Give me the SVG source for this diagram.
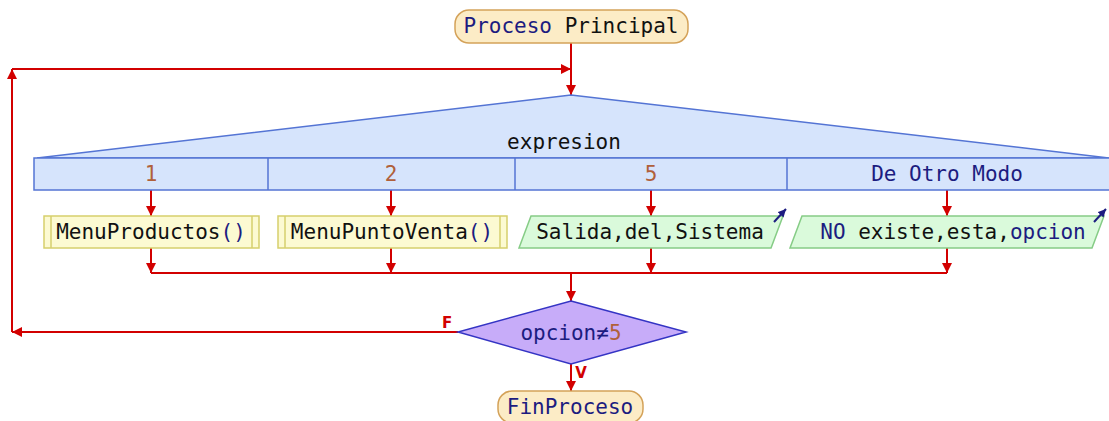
<svg xmlns="http://www.w3.org/2000/svg" width="1109" height="421" viewBox="0 0 1109 421">
<style>
text{font-family:"DejaVu Sans Mono","Liberation Mono",monospace;font-size:21px;text-anchor:middle}
.k{fill:#111111}.n{fill:#1c1c80}.b{fill:#b0603a}
.term{fill:#fcecc6;stroke:#d4a259;stroke-width:1.5}
.sel{fill:#d6e4fc;stroke:#5474d4;stroke-width:1.5}
.sub{fill:#fcfad2;stroke:#d6cf6c;stroke-width:1.5}
.io{fill:#dafadb;stroke:#86cc86;stroke-width:1.5}
.dec{fill:#c7acf9;stroke:#3434c4;stroke-width:1.5}
.ln{stroke:#d20000;stroke-width:2;fill:none}
.lbl{font-family:"DejaVu Sans","Liberation Sans",sans-serif;font-size:15px;font-weight:bold;fill:#d20000}
.oa{stroke:#1c1c80;stroke-width:2;fill:none}
</style>
<defs>
<marker id="ah" viewBox="0 0 10 10" refX="10" refY="5" markerWidth="5" markerHeight="5" orient="auto" markerUnits="strokeWidth">
<path d="M0,0 L10,5 L0,10 z" fill="#d20000"/>
</marker>
<marker id="oh" viewBox="0 0 10 10" refX="10" refY="5" markerWidth="4" markerHeight="4" orient="auto" markerUnits="strokeWidth">
<path d="M0,0 L10,5 L0,10 z" fill="#1c1c80"/>
</marker>
</defs>
<g id="connectors">
<line class="ln" x1="571" y1="43" x2="571" y2="95" marker-end="url(#ah)"/>
<line class="ln" x1="458" y1="332" x2="12" y2="332" marker-end="url(#ah)"/>
<line class="ln" x1="12" y1="332" x2="12" y2="69" marker-end="url(#ah)"/>
<line class="ln" x1="12" y1="69" x2="571" y2="69" marker-end="url(#ah)"/>
<line class="ln" x1="151" y1="190" x2="151" y2="216" marker-end="url(#ah)"/>
<line class="ln" x1="391" y1="190" x2="391" y2="216" marker-end="url(#ah)"/>
<line class="ln" x1="651" y1="190" x2="651" y2="216" marker-end="url(#ah)"/>
<line class="ln" x1="947" y1="190" x2="947" y2="216" marker-end="url(#ah)"/>
<line class="ln" x1="151" y1="248" x2="151" y2="273" marker-end="url(#ah)"/>
<line class="ln" x1="391" y1="248" x2="391" y2="273" marker-end="url(#ah)"/>
<line class="ln" x1="651" y1="248" x2="651" y2="273" marker-end="url(#ah)"/>
<line class="ln" x1="947" y1="248" x2="947" y2="273" marker-end="url(#ah)"/>
<line class="ln" x1="151" y1="273" x2="947" y2="273"/>
<line class="ln" x1="571" y1="273" x2="571" y2="301" marker-end="url(#ah)"/>
<line class="ln" x1="571" y1="364" x2="571" y2="391" marker-end="url(#ah)"/>
<text class="lbl" x="447" y="328">F</text>
<text class="lbl" x="581" y="378">V</text>
</g>
<g id="start">
<rect class="term" x="455" y="10" width="233" height="33" rx="14"/>
<text x="571" y="33"><tspan class="n">Proceso</tspan> <tspan class="k">Principal</tspan></text>
</g>
<g id="switch">
<polygon class="sel" points="37,158 571,95 1109,158"/>
<rect class="sel" x="34" y="158" width="1080" height="32"/>
<line class="sel" x1="268" y1="158" x2="268" y2="190"/>
<line class="sel" x1="515" y1="158" x2="515" y2="190"/>
<line class="sel" x1="787" y1="158" x2="787" y2="190"/>
<text class="k" x="564" y="149">expresion</text>
<text class="b" x="151" y="181">1</text>
<text class="b" x="391" y="181">2</text>
<text class="b" x="651" y="181">5</text>
<text class="n" x="947" y="181">De Otro Modo</text>
</g>
<g id="menuProductos">
<rect class="sub" x="44" y="216" width="215" height="32"/>
<line class="sub" x1="51" y1="216" x2="51" y2="248"/>
<line class="sub" x1="252" y1="216" x2="252" y2="248"/>
<text x="151" y="239"><tspan class="k">MenuProductos</tspan><tspan class="n">()</tspan></text>
</g>
<g id="menuPuntoVenta">
<rect class="sub" x="278" y="216" width="229" height="32"/>
<line class="sub" x1="285" y1="216" x2="285" y2="248"/>
<line class="sub" x1="500" y1="216" x2="500" y2="248"/>
<text x="392" y="239"><tspan class="k">MenuPuntoVenta</tspan><tspan class="n">()</tspan></text>
</g>
<g id="salida">
<polygon class="io" points="531,216 783,216 771,248 519,248"/>
<text class="k" x="650" y="239">Salida,del,Sistema</text>
<line class="oa" x1="774" y1="222" x2="786" y2="209" marker-end="url(#oh)"/>
</g>
<g id="noExiste">
<polygon class="io" points="802,216 1104,216 1092,248 790,248"/>
<text x="953" y="239"><tspan class="n">NO</tspan> <tspan class="k">existe,esta,</tspan><tspan class="n">opcion</tspan></text>
<line class="oa" x1="1094" y1="222" x2="1106" y2="209" marker-end="url(#oh)"/>
</g>
<g id="decision">
<polygon class="dec" points="571,301 686,332 571,364 458,332"/>
<text x="571" y="340"><tspan class="n">opcion≠</tspan><tspan class="b">5</tspan></text>
</g>
<g id="end">
<rect class="term" x="498" y="391" width="145" height="32" rx="14"/>
<text class="n" x="570" y="414">FinProceso</text>
</g>
</svg>
